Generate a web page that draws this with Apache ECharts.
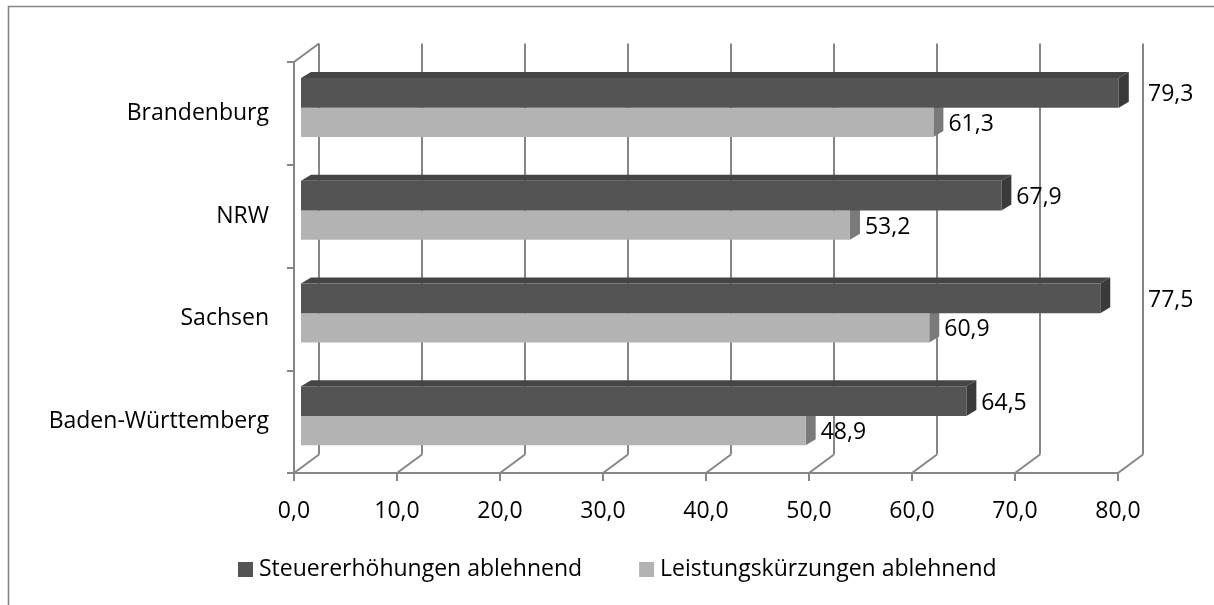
<!DOCTYPE html>
<html>
<head>
<meta charset="utf-8">
<script src="https://cdn.jsdelivr.net/npm/echarts@6/dist/echarts.min.js"></script>
<style>
html,body{margin:0;padding:0;background:#fff;}
#chart{width:1214px;height:605px;}
</style>
</head>
<body>
<div id="chart"></div>
<script>
const categories = ['Brandenburg', 'NRW', 'Sachsen', 'Baden-Württemberg'];
const steuerValues = [79.3, 67.9, 77.5, 64.5];
const leistungValues = [61.3, 53.2, 60.9, 48.9];
const xTicks = [0, 10, 20, 30, 40, 50, 60, 70, 80];
const seriesNames = ['Steuererhöhungen ablehnend', 'Leistungskürzungen ablehnend'];

const FONT = 'Open Sans';
const FS = 23;
const GRID_COLOR = '#868686';
const GRID_W = 2;
const WALL_DX = 25, WALL_DY = -18.5;
const BAR_DX = 10, BAR_DY = -6;

const fmt = v => v.toFixed(1).replace('.', ',');

function wallItem(params, api) {
  const cs = params.coordSys;
  const v = api.value(0);
  const x = api.coord([v, 0])[0];
  const yTop = cs.y, yBot = cs.y + cs.height;
  const ls = { stroke: GRID_COLOR, lineWidth: GRID_W };
  const children = [
    { type: 'line', shape: { x1: x + WALL_DX, y1: yTop + WALL_DY, x2: x + WALL_DX, y2: yBot + WALL_DY }, style: ls },
    { type: 'line', shape: { x1: x, y1: yBot, x2: x + WALL_DX, y2: yBot + WALL_DY }, style: ls }
  ];
  if (v === 0) {
    children.push({ type: 'line', shape: { x1: x, y1: yTop, x2: x + WALL_DX, y2: yTop + WALL_DY }, style: ls });
  }
  return { type: 'group', children };
}

function makeBarRenderer(which) {
  // which: 0 = dark (upper), 1 = light (lower)
  const cols = which === 0
    ? { front: '#545454', top: '#454545', side: '#3a3a3a' }
    : { front: '#b3b3b3', top: '#9a9a9a', side: '#7a7a7a' };
  return function (params, api) {
    const v = api.value(0);
    const idx = api.value(1);
    const c = api.coord([0, idx]);
    const band = api.size([0, 1])[1];
    const xL = c[0] + 7;
    const xR = api.coord([v, idx])[0] + 8;
    let yT, yB;
    if (which === 0) { yT = c[1] - 0.345 * band; yB = c[1] - 0.054 * band; }
    else { yT = c[1] - 0.054 * band; yB = c[1] + 0.229 * band; }
    const children = [];
    if (which === 0) {
      children.push({ type: 'polygon', shape: { points: [[xL, yT], [xL + BAR_DX, yT + BAR_DY], [xR + BAR_DX, yT + BAR_DY], [xR, yT]] }, style: { fill: cols.top } });
    }
    children.push({ type: 'polygon', shape: { points: [[xR, yT], [xR + BAR_DX, yT + BAR_DY], [xR + BAR_DX, yB + BAR_DY], [xR, yB]] }, style: { fill: cols.side } });
    children.push({ type: 'rect', shape: { x: xL, y: yT, width: xR - xL, height: yB - yT }, style: { fill: cols.front } });
    // label
    const back80 = api.coord([80, idx])[0] + WALL_DX;
    let lx = xR + BAR_DX + 5;
    if (lx + 46 > back80 - 2) lx = back80 + 5;
    children.push({
      type: 'text',
      style: { text: fmt(v), x: lx, y: (yT + yB) / 2 + 2, fill: '#000', fontSize: FS, fontFamily: FONT, verticalAlign: 'middle', align: 'left' }
    });
    return { type: 'group', children };
  };
}

const chart = echarts.init(document.getElementById('chart'), null, { renderer: 'canvas' });
chart.setOption({
  backgroundColor: '#fff',
  animation: false,
  textStyle: { fontFamily: FONT },
  graphic: [{
    type: 'rect', z: 100, silent: true,
    shape: { x: 8.5, y: 6.5, width: 1230, height: 630 },
    style: { fill: 'none', stroke: '#868686', lineWidth: 1.6 }
  }],
  grid: { left: 294, right: 96, top: 62, bottom: 132, containLabel: false },
  legend: {
    data: seriesNames.map(n => ({ name: n, icon: 'rect' })),
    left: 238, top: 558, padding: 0,
    itemWidth: 15, itemHeight: 15, itemGap: 57,
    textStyle: { fontSize: FS, fontFamily: FONT, color: '#000', padding: [0, 0, 0, 1] },
    selectedMode: false
  },
  xAxis: {
    type: 'value', min: 0, max: 80, interval: 10,
    axisLine: { show: true, lineStyle: { color: GRID_COLOR, width: GRID_W } },
    axisTick: { show: true, length: 8, lineStyle: { color: GRID_COLOR, width: GRID_W } },
    axisLabel: { formatter: v => fmt(v), fontSize: FS, fontFamily: FONT, color: '#000', margin: 27 },
    splitLine: { show: false }
  },
  yAxis: {
    type: 'category', data: categories, inverse: true,
    axisLine: { show: true, lineStyle: { color: GRID_COLOR, width: GRID_W } },
    axisTick: { show: true, length: 7, lineStyle: { color: GRID_COLOR, width: GRID_W } },
    axisLabel: { fontSize: FS, fontFamily: FONT, color: '#000', margin: 25, padding: [4, 0, 0, 0] },
    splitLine: { show: false }
  },
  series: [
    {
      type: 'custom', name: '__walls', silent: true, clip: false, z: 1,
      renderItem: wallItem,
      data: xTicks.map(v => [v, 0])
    },
    {
      type: 'custom', name: seriesNames[1], silent: true, clip: false, z: 2,
      itemStyle: { color: '#b3b3b3' },
      renderItem: makeBarRenderer(1),
      encode: { x: 0, y: 1 },
      data: leistungValues.map((v, i) => [v, i])
    },
    {
      type: 'custom', name: seriesNames[0], silent: true, clip: false, z: 3,
      itemStyle: { color: '#545454' },
      renderItem: makeBarRenderer(0),
      encode: { x: 0, y: 1 },
      data: steuerValues.map((v, i) => [v, i])
    }
  ]
});
</script>
</body>
</html>
